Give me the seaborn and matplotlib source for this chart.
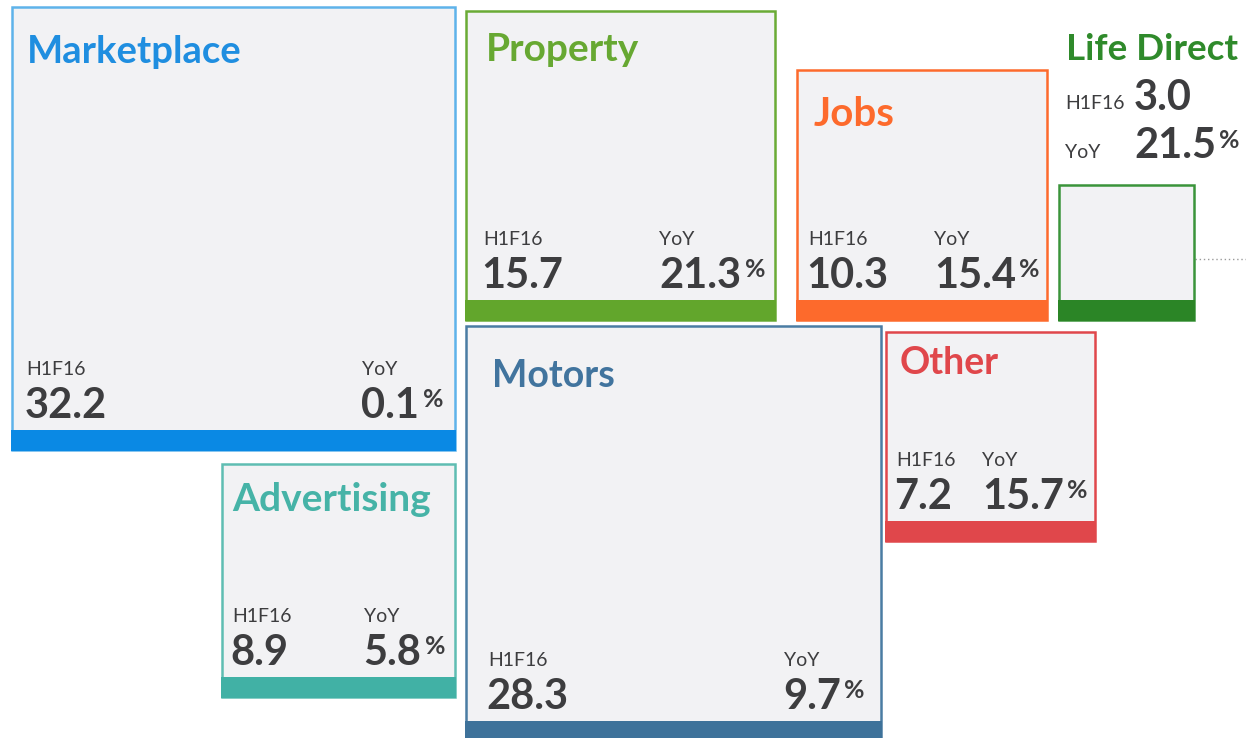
import matplotlib
matplotlib.use("Agg")
import matplotlib.pyplot as plt
from matplotlib.patches import Rectangle
import numpy as np
import seaborn as sns

# H1F16 revenue per segment and year-on-year growth (%)
segments = ["Marketplace", "Property", "Jobs", "Life Direct", "Motors", "Other", "Advertising"]
h1f16 = [32.2, 15.7, 10.3, 3.0, 28.3, 7.2, 8.9]
yoy = [0.1, 21.3, 15.4, 21.5, 9.7, 15.7, 5.8]

title_colors = ["#1f8ee0", "#67a832", "#fd6a2c", "#2f8a2b", "#41749e", "#e0474b", "#46b3a7"]
edge_colors = ["#5eb3ea", "#6aab35", "#fd6a2c", "#3a943a", "#4a7ca3", "#e0474b", "#5fbdb2"]
band_colors = ["#0a89e4", "#62a62c", "#fd6a2c", "#2b8526", "#3e729a", "#e0474b", "#41b1a5"]

# layout: anchor point of each square and the corner it sits on
anchors = [(455, 450, "br"), (466, 320, "bl"), (1047, 320, "br"), (1059, 320, "bl"),
           (466, 741, "bl"), (886, 332, "tl"), (455, 464, "tr")]
# title: x offset, baseline offset from top, font size
title_pos = [(14, 56, 27.5), (20, 50, 28), (17, 56, 29), (7, -125, 26.5),
             (26, 61, 27), (14, 42, 27), (10, 47, 28)]
lpad = [14, 17, 12, 0, 22, 10, 10]
rpad = [12, 10, 7, 0, 16, 8, 10]

px_per_unit = 78  # square side = px_per_unit * sqrt(value)
band_h = 20
dark = "#3d3d3f"
fill = "#f2f2f4"
num_fs = 30
lab_fs = 14
pct_fs = 18

sns.set_theme(style="white")
plt.rcParams["font.family"] = ["Lato", "DejaVu Sans"]

fig = plt.figure(figsize=(12.46, 7.38), dpi=100)
ax = fig.add_axes([0, 0, 1, 1])
ax.set_xlim(0, 1246)
ax.set_ylim(738, 0)
ax.set_axis_off()

fig.canvas.draw()
renderer = fig.canvas.get_renderer()
inv = ax.transData.inverted()


def xspan(t):
    bb = t.get_window_extent(renderer)
    (a, _), (b, _) = inv.transform([[bb.x0, bb.y0], [bb.x1, bb.y1]])
    return a, b


cap = 0.7165 * num_fs * 100 / 72

for i, name in enumerate(segments):
    s = px_per_unit * np.sqrt(h1f16[i])
    axx, axy, corner = anchors[i]
    x0 = axx - s if corner[1] == "r" else axx
    y0 = axy - s if corner[0] == "b" else axy
    x1, y1 = x0 + s, y0 + s

    ax.add_patch(Rectangle((x0, y0), s, s, facecolor=fill, edgecolor=edge_colors[i], lw=1.8, zorder=1))
    ax.add_patch(Rectangle((x0 - 1, y1 - band_h), s + 2, band_h + 1, facecolor=band_colors[i],
                           lw=0, zorder=3))

    tdx, tdy, tfs = title_pos[i]
    ax.text(x0 + tdx, y0 + tdy, name, color=title_colors[i], fontsize=tfs, fontweight="bold",
            ha="left", va="baseline", zorder=4)

    if i == 3:
        # small square: figures sit above it, with a leader line to the right
        lx = x0 + 6
        nx = x0 + 75
        ax.text(lx, y0 - 76, "H1F16", color=dark, fontsize=lab_fs, ha="left", va="baseline")
        ax.text(nx, y0 - 75, f"{h1f16[i]:.1f}", color=dark, fontsize=num_fs, fontweight="bold",
                ha="left", va="baseline")
        ax.text(lx, y0 - 27, "YoY", color=dark, fontsize=lab_fs, ha="left", va="baseline")
        t = ax.text(nx, y0 - 27, f"{yoy[i]:.1f}", color=dark, fontsize=num_fs, fontweight="bold",
                    ha="left", va="baseline")
        _, r = xspan(t)
        ax.text(r + 3, y0 - 27 - cap + 1, "%", color=dark, fontsize=pct_fs, fontweight="bold",
                ha="left", va="top")
        ax.plot([x1 + 1, 1246], [y0 + 0.55 * s, y0 + 0.55 * s], color="#9a9a9a", lw=1,
                ls=(0, (1, 2)), zorder=0)
        continue

    base = y1 - 32
    ax.text(x0 + lpad[i], y1 - 75, "H1F16", color=dark, fontsize=lab_fs, ha="left", va="baseline", zorder=4)
    ax.text(x0 + lpad[i] - 2, base, f"{h1f16[i]:.1f}", color=dark, fontsize=num_fs, fontweight="bold",
            ha="left", va="baseline", zorder=4)

    p = ax.text(x1 - rpad[i], base - cap, "%", color=dark, fontsize=pct_fs, fontweight="bold",
                ha="right", va="top", zorder=4)
    pl, _ = xspan(p)
    n = ax.text(pl - 3, base, f"{yoy[i]:.1f}", color=dark, fontsize=num_fs, fontweight="bold",
                ha="right", va="baseline", zorder=4)
    nl, _ = xspan(n)
    ax.text(nl, y1 - 75, "YoY", color=dark, fontsize=lab_fs, ha="left", va="baseline", zorder=4)

fig.savefig("out.png", dpi=100, facecolor="white")
